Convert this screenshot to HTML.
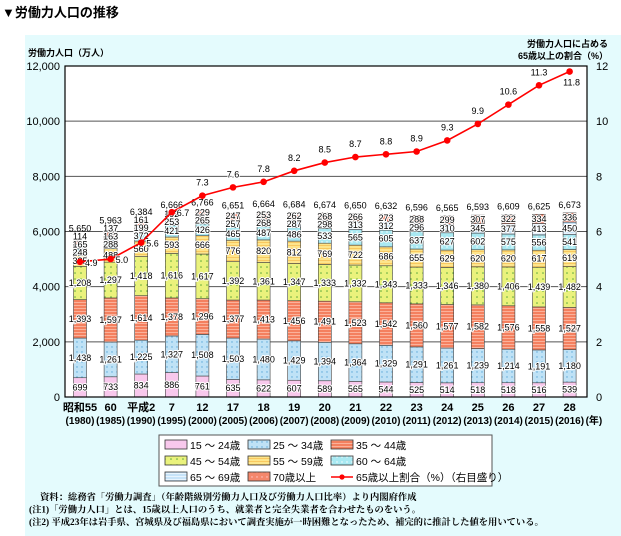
<!DOCTYPE html>
<html><head><meta charset="utf-8"><style>
body{margin:0;width:621px;height:536px;background:#fff;overflow:hidden;font-family:"Liberation Sans","Noto Sans CJK JP",sans-serif}
svg{position:absolute;left:0;top:0}
</style></head><body>
<svg id="s" width="621" height="536" xmlns="http://www.w3.org/2000/svg">
<defs>
<pattern id="pdot" width="5" height="5" patternUnits="userSpaceOnUse"><rect width="5" height="5" fill="#bfe2f6"/><circle cx="2" cy="2" r="0.7" fill="#5aa8d8"/></pattern>
<pattern id="pstr" width="4" height="3" patternUnits="userSpaceOnUse"><rect width="4" height="3" fill="#f4805f"/><rect y="2" width="4" height="1" fill="#fbb19a"/></pattern>
<pattern id="pgrn" width="6" height="6" patternUnits="userSpaceOnUse"><rect width="6" height="6" fill="#eaf27c"/><circle cx="3" cy="3" r="0.8" fill="#5aa83c"/></pattern>
<pattern id="pyel" width="4" height="3" patternUnits="userSpaceOnUse"><rect width="4" height="3" fill="#fde58c"/><rect y="2" width="4" height="1" fill="#f8c860"/></pattern>
<pattern id="pcy" width="5" height="5" patternUnits="userSpaceOnUse"><rect width="5" height="5" fill="#a9e9f2"/><circle cx="2" cy="2" r="0.7" fill="#fff"/></pattern>
<pattern id="plb" width="4" height="3" patternUnits="userSpaceOnUse"><rect width="4" height="3" fill="#c7e3f8"/><rect y="2" width="4" height="1" fill="#e8f4fd"/></pattern>
<pattern id="por" width="5" height="5" patternUnits="userSpaceOnUse"><rect width="5" height="5" fill="#f4876c"/><circle cx="2" cy="2" r="0.7" fill="#fcc"/></pattern>
</defs>
<rect x="25" y="35" width="596" height="501" fill="#e4fbfd"/>
<text x="2" y="17" font-size="13" font-weight="bold" fill="#000">▼労働力人口の推移</text>
<g id="g"></g>
</svg>
<script>
const g=document.getElementById('g');let h='';
const X0=65,X1=587,Y0=397,K=(397-66)/12000;
const y=v=>Y0-v*K;
h+=`<rect x="${X0}" y="66" width="${X1-X0}" height="331" fill="#fff"/>`;
for(let v=2000;v<12000;v+=2000)h+=`<line x1="${X0}" x2="${X1}" y1="${y(v)}" y2="${y(v)}" stroke="#555" stroke-width="1"/>`;
const fills=['#f8c8ec','url(#pdot)','url(#pstr)','url(#pgrn)','url(#pyel)','url(#pcy)','url(#plb)','url(#por)'];
const D=[
[699,1438,1393,1208,385,248,165,114,5650,4.9],
[733,1261,1597,1297,488,288,163,137,5963,5.0],
[834,1225,1614,1418,560,372,199,161,6384,5.6],
[886,1327,1378,1616,593,421,253,192,6666,6.7],
[761,1508,1296,1617,666,426,265,229,6766,7.3],
[635,1503,1377,1392,776,465,257,247,6651,7.6],
[622,1480,1413,1361,820,487,268,253,6664,7.8],
[607,1429,1456,1347,812,486,287,262,6684,8.2],
[589,1394,1491,1333,769,533,298,268,6674,8.5],
[565,1364,1523,1332,722,565,313,266,6650,8.7],
[544,1329,1542,1343,686,605,312,273,6632,8.8],
[525,1291,1560,1333,655,637,296,288,6596,8.9],
[514,1261,1577,1346,629,627,310,299,6565,9.3],
[518,1239,1582,1380,620,602,345,307,6593,9.9],
[518,1214,1576,1406,620,575,377,322,6609,10.6],
[516,1191,1558,1439,617,556,413,334,6625,11.3],
[539,1180,1527,1482,619,541,450,336,6673,11.8]];
const L1=['昭和55','60','平成2','7','12','17','18','19','20','21','22','23','24','25','26','27','28'];
const L2=[1980,1985,1990,1995,2000,2005,2006,2007,2008,2009,2010,2011,2012,2013,2014,2015,2016];
const fmt=n=>n.toLocaleString('en-US');
let pts=[];let lab='';
D.forEach((d,i)=>{
 const cx=80+i*30.6,w=13;let acc=0,prev=999;
 for(let k=0;k<8;k++){
  const t=y(acc+d[k]),b=y(acc);acc+=d[k];
  h+=`<rect x="${cx-w/2}" y="${t}" width="${w}" height="${b-t}" fill="${fills[k]}" stroke="#444" stroke-width="0.6"/>`;
  let ly=(t+b)/2+3;if(ly>prev-8)ly=prev-8;prev=ly;
  lab+=`<text x="${cx}" y="${ly}" text-anchor="middle" font-size="9" fill="#000" stroke="#fff" stroke-width="2" paint-order="stroke">${fmt(d[k])}</text>`;
 }
 let ty=Math.min(y(acc)-5,prev-8);
 lab+=`<text x="${cx}" y="${ty}" text-anchor="middle" font-size="9" fill="#000">${fmt(d[8])}</text>`;
 pts.push([cx,Y0-d[9]/12*331,d[9]]);
 h+=`<text x="${cx}" y="411" text-anchor="middle" font-size="11" font-weight="bold">${L1[i]}</text>`;
 h+=`<text x="${cx}" y="424" text-anchor="middle" font-size="10" font-weight="bold">(${L2[i]})</text>`;
});
h+=`<text x="${80+16*30.6+16}" y="424" text-anchor="start" font-size="10" font-weight="bold">(年)</text>`;
h+=lab;
h+=`<polyline points="${pts.map(p=>p[0]+','+p[1]).join(' ')}" fill="none" stroke="#f00" stroke-width="1.6"/>`;
pts.forEach((p,i)=>{h+=`<circle cx="${p[0]}" cy="${p[1]}" r="3.3" fill="#f00"/>`;
 let lx=p[0],ly=p[1]-10,a='middle';
 if(i<4){lx=p[0]+5;ly=p[1]+4;a='start'}
 if(i==16){ly=p[1]+14;lx=p[0]+2}
 h+=`<text x="${lx}" y="${ly}" text-anchor="${a}" font-size="9" fill="#000" stroke="#fff" stroke-width="2" paint-order="stroke">${p[2].toFixed(1)}</text>`;});
h+=`<rect x="${X0}" y="66" width="${X1-X0}" height="331" fill="none" stroke="#000" stroke-width="1.2"/>`;
for(let v=0;v<=12000;v+=2000){h+=`<text x="60" y="${y(v)+4}" text-anchor="end" font-size="11">${fmt(v)}</text>`;}
for(let v=0;v<=12;v+=2){h+=`<text x="596" y="${Y0-v/12*331+4}" text-anchor="start" font-size="11">${v}</text>`;}
h+=`<text x="28" y="56" font-size="9" font-weight="bold">労働力人口（万人）</text>`;
h+=`<text x="608" y="47" text-anchor="end" font-size="9" font-weight="bold">労働力人口に占める</text>`;
h+=`<text x="608" y="59" text-anchor="end" font-size="9" font-weight="bold">65歳以上の割合（%）</text>`;
// legend
h+=`<rect x="159" y="435" width="333" height="51" fill="#fff" stroke="#555"/>`;
const LG=[['15 ～ 24歳',0],['25 ～ 34歳',1],['35 ～ 44歳',2],['45 ～ 54歳',3],['55 ～ 59歳',4],['60 ～ 64歳',5],['65 ～ 69歳',6],['70歳以上',7],['65歳以上割合（%）（右目盛り）',-1]];
LG.forEach((l,i)=>{const cx=165+(i%3)*83,cy=445+Math.floor(i/3)*16;
 if(l[1]>=0)h+=`<rect x="${cx}" y="${cy-5}" width="22" height="9" fill="${fills[l[1]]}" stroke="#333" stroke-width="0.8"/>`;
 else h+=`<line x1="${cx}" x2="${cx+22}" y1="${cy}" y2="${cy}" stroke="#f00" stroke-width="1.5"/><circle cx="${cx+11}" cy="${cy}" r="2.6" fill="#f00"/>`;
 h+=`<text x="${cx+25}" y="${cy+4}" font-size="10.5">${l[0]}</text>`;});
const N=['資料：総務省「労働力調査」（年齢階級別労働力人口及び労働力人口比率）より内閣府作成','(注1)「労働力人口」とは、15歳以上人口のうち、就業者と完全失業者を合わせたものをいう。','(注2) 平成23年は岩手県、宮城県及び福島県において調査実施が一時困難となったため、補完的に推計した値を用いている。'];
N.forEach((t,i)=>h+=`<text x="${i?29:40}" y="${500+i*12.5}" font-size="9.3" font-weight="bold" font-family="Liberation Serif,Noto Serif CJK SC,serif">${t}</text>`);
g.innerHTML=h;
</script>
</body></html>
